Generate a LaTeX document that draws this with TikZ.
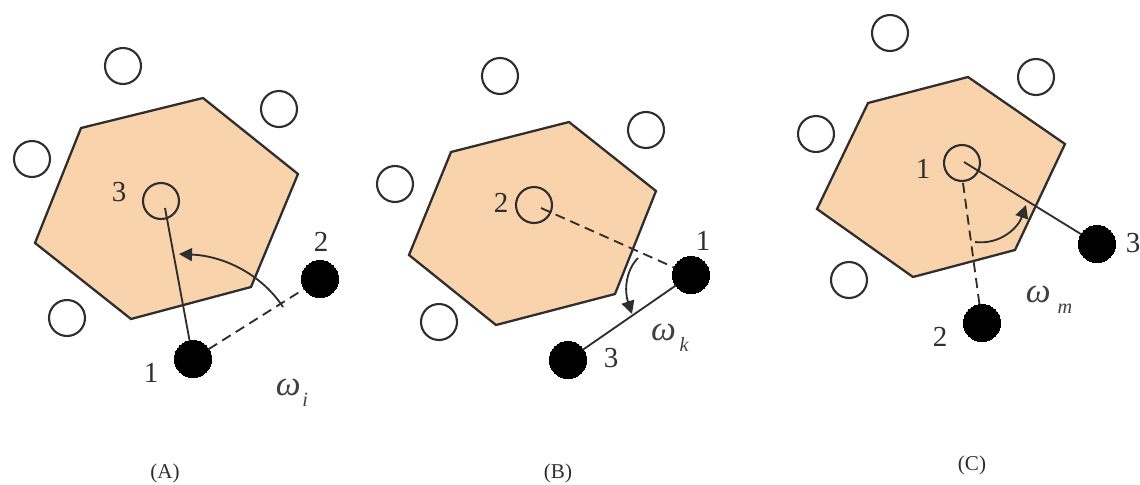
\documentclass[tikz,border=0pt]{standalone}
\usepackage{fontspec}
\setmainfont{Liberation Serif}
\usetikzlibrary{arrows.meta}
\definecolor{ink}    {HTML}{2E2E2E}
\definecolor{sand}   {HTML}{F9D3AB}
\definecolor{soft}   {HTML}{404040}
\newcommand{\omegalab}[2][1pt]{\textit{ω}\hspace{#1}\raisebox{-6.5pt}{\fontsize{11.5}{12}\selectfont\textit{#2}}}
\tikzset{
  hexa/.style  ={draw=ink, line width=1.3pt, fill=sand, line join=miter},
  free/.style  ={circle, draw=ink, line width=1.2pt, fill=none,
                 minimum size=0.72cm, inner sep=0pt},
  held/.style  ={circle, draw=black, fill=black, line width=0pt,
                 minimum size=0.74cm, inner sep=0pt},
  num/.style   ={font=\fontsize{16.5}{18}\selectfont, text=ink, inner sep=0pt},
  captag/.style={font=\fontsize{12}{14}\selectfont, text=ink, inner sep=0pt},
  wlab/.style  ={font=\fontsize{20}{22}\selectfont, text=soft, inner sep=0pt},
  ln/.style    ={draw=ink, line width=1.05pt},
  lnd/.style   ={draw=ink, line width=1.05pt, dash pattern=on 2mm off 1.2mm},
  ar/.style    ={-{Triangle[length=2.6mm,width=2.6mm]}, draw=ink, line width=1.05pt}
}
\begin{document}
\begin{tikzpicture}[x=0.02cm, y=-0.02cm]
\useasboundingbox (0,0) rectangle (1140,484);

% panel A
\draw[hexa] (81,128) -- (203,98) -- (298,174) -- (251,287) -- (131,319) -- (35,243) -- cycle;
\foreach \n/\x/\y in {a1/123/66,a2/279/109,a3/32/159,a4/67/318,a5/161/201}
  \node[free] (\n) at (\x,\y) {};
\node[held] (a6) at (193,359) {};
\node[held] (a7) at (320,279) {};
\coordinate (a8) at (165,208);
\coordinate (a9) at (283,307);
\coordinate (a10) at (179,254);
\draw[ln] (a8) -- (a6);
\draw[lnd] (a6) -- (a7);
\draw[ar] (a9) .. controls (262,275) and (225,256) .. (a10);
\node[num] (an3) at (119,192) {3};
\node[num] (an2) at (321,242) {2};
\node[num] (an1) at (151,373) {1};
\node[wlab] (aw) at (292,393) {\omegalab{i}};
\node[captag] (ac) at (165,473) {(A)};

% panel B
\draw[hexa] (451,152) -- (569,122) -- (656,191) -- (615,294) -- (496,325) -- (409,255) -- cycle;
\foreach \n/\x/\y in {b1/500/76,b2/646/130,b3/395/184,b4/439/322,b5/534/205}
  \node[free] (\n) at (\x,\y) {};
\node[held] (b6) at (691,275) {};
\node[held] (b7) at (568,360) {};
\coordinate (b8) at (541,208);
\coordinate (b9) at (638,258);
\coordinate (b10) at (632,314);
\draw[lnd] (b8) -- (b6);
\draw[ln] (b6) -- (b7);
\draw[ar] (b9) .. controls (626,270) and (624,290) .. (b10);
\node[num] (bn2) at (501,203) {2};
\node[num] (bn1) at (703,241) {1};
\node[num] (bn3) at (611,358) {3};
\node[wlab] (bw) at (670,338) {\omegalab[2pt]{k}};
\node[captag] (bc) at (558,473) {(B)};

% panel C
\draw[hexa] (868,103) -- (968,77) -- (1065,144) -- (1015,250) -- (913,277) -- (817,209) -- cycle;
\foreach \n/\x/\y in {c1/890/33,c2/1036/77,c3/816/134,c4/849/280,c5/962/163}
  \node[free] (\n) at (\x,\y) {};
\node[held] (c6) at (1097,244) {};
\node[held] (c7) at (982,323) {};
\coordinate (c8) at (964,162);
\coordinate (c9) at (963,183);
\coordinate (c10) at (975,242);
\coordinate (c11) at (1026,205);
\draw[ln] (c8) -- (c6);
\draw[lnd] (c9) -- (c7);
\draw[ar] (c10) .. controls (1000,245) and (1018,228) .. (c11);
\node[num] (cn1) at (923,169) {1};
\node[num] (cn3) at (1133,243) {3};
\node[num] (cn2) at (940,337) {2};
\node[wlab] (cw) at (1049,300) {\omegalab[4pt]{m}};
\node[captag] (cc) at (972,465) {(C)};
\end{tikzpicture}
\end{document}
